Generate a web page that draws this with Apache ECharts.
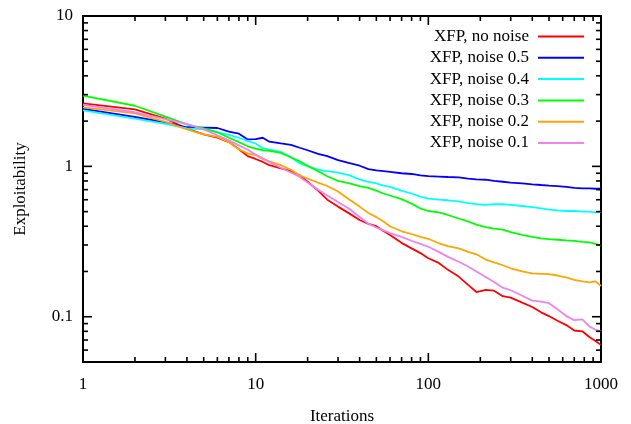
<!DOCTYPE html>
<html>
<head>
<meta charset="utf-8">
<script src="https://cdn.jsdelivr.net/npm/echarts@6.0.0/dist/echarts.min.js"></script>
<style>
html,body{margin:0;padding:0;background:#fff;}
#chart{width:631px;height:424px;}
</style>
</head>
<body>
<div id="chart"></div>
<script>
const iterations = [1,2,3,4,5,6,7,8,9,10,11,12,14,16,18,20,23,26,30,35,40,45,50,55,60,70,80,90,100,115,130,150,170,190,215,240,270,300,350,400,450,500,560,630,700,780,860,930,1000];

const noNoise = [2.62,2.39,2.08,1.78,1.63,1.55,1.45,1.30,1.17,1.12,1.07,1.02,0.97,0.93,0.87,0.79,0.69,0.60,0.54,0.485,0.44,0.415,0.40,0.372,0.35,0.31,0.285,0.265,0.245,0.228,0.205,0.185,0.163,0.146,0.151,0.149,0.137,0.134,0.124,0.116,0.107,0.101,0.094,0.088,0.081,0.080,0.073,0.069,0.065];
const noise05 = [2.41,2.13,1.96,1.82,1.81,1.80,1.70,1.65,1.51,1.52,1.55,1.46,1.42,1.39,1.33,1.28,1.21,1.17,1.10,1.05,1.01,0.96,0.94,0.93,0.92,0.90,0.89,0.87,0.86,0.855,0.85,0.845,0.83,0.82,0.815,0.80,0.79,0.78,0.77,0.76,0.752,0.745,0.738,0.73,0.72,0.715,0.715,0.71,0.71];
const noise04 = [2.36,2.08,1.92,1.79,1.76,1.68,1.62,1.55,1.47,1.42,1.32,1.29,1.25,1.15,1.05,1.00,0.95,0.93,0.91,0.87,0.82,0.79,0.77,0.745,0.73,0.69,0.66,0.63,0.61,0.60,0.595,0.585,0.57,0.56,0.555,0.56,0.56,0.555,0.545,0.535,0.525,0.515,0.51,0.505,0.505,0.50,0.50,0.495,0.50];
const noise03 = [2.95,2.53,2.14,1.90,1.79,1.69,1.55,1.45,1.36,1.31,1.28,1.27,1.23,1.15,1.08,1.01,0.93,0.86,0.80,0.77,0.74,0.72,0.69,0.66,0.64,0.605,0.565,0.525,0.505,0.495,0.475,0.45,0.43,0.41,0.395,0.385,0.38,0.365,0.35,0.34,0.332,0.328,0.325,0.322,0.32,0.315,0.312,0.305,0.297];
const noise02 = [2.47,2.25,1.98,1.76,1.63,1.57,1.45,1.30,1.22,1.19,1.12,1.08,1.02,0.95,0.87,0.83,0.78,0.74,0.68,0.60,0.54,0.49,0.46,0.43,0.40,0.37,0.355,0.34,0.33,0.308,0.295,0.285,0.27,0.26,0.24,0.23,0.22,0.21,0.20,0.194,0.193,0.192,0.188,0.183,0.176,0.172,0.169,0.172,0.160];
const noise01 = [2.56,2.29,2.06,1.91,1.76,1.61,1.49,1.38,1.29,1.20,1.13,1.07,0.98,0.91,0.85,0.78,0.70,0.64,0.58,0.52,0.46,0.415,0.392,0.375,0.36,0.34,0.32,0.305,0.292,0.27,0.25,0.232,0.216,0.20,0.184,0.17,0.156,0.15,0.138,0.128,0.126,0.123,0.112,0.101,0.095,0.096,0.086,0.082,0.080];

const seriesNames = ['XFP, no noise','XFP, noise 0.5','XFP, noise 0.4','XFP, noise 0.3','XFP, noise 0.2','XFP, noise 0.1'];
const seriesValues = [noNoise, noise05, noise04, noise03, noise02, noise01];
const seriesColors = ['#ff0000','#0000ff','#00ffff','#00ff00','#ffa500','#ee82ee'];

const xTickValues = [1,2,3,4,5,6,7,8,9,10,20,30,40,50,60,70,80,90,100,200,300,400,500,600,700,800,900,1000];
const yTickValues = [0.05,0.06,0.07,0.08,0.09,0.1,0.2,0.3,0.4,0.5,0.6,0.7,0.8,0.9,1,2,3,4,5,6,7,8,9,10];
const X_MIN = 1, X_MAX = 1000, Y_MIN = 0.05, Y_MAX = 10;

function isMajor(v){ const l = Math.log10(v); return Math.abs(l - Math.round(l)) < 1e-6; }

const FONT = 'Liberation Serif';
const chart = echarts.init(document.getElementById('chart'), null, {renderer:'canvas'});

const lineSeries = seriesNames.map((name, i) => ({
  name: name,
  type: 'line',
  data: iterations.map((x, j) => [x, seriesValues[i][j]]),
  symbol: 'none',
  showSymbol: false,
  lineStyle: {color: seriesColors[i], width: 1.8},
  itemStyle: {color: seriesColors[i]},
  z: 2
}));

const tickStyle = {stroke:'#000', lineWidth:1.6};

const xTickSeries = {
  type: 'custom', name: 'xticks', silent: true, clip: false, z: 5,
  data: xTickValues.map(v => [v, Y_MIN]),
  renderItem: function(params, api){
    const v = api.value(0);
    const L = isMajor(v) ? 9 : 5;
    const b = api.coord([v, Y_MIN]);
    const t = api.coord([v, Y_MAX]);
    return {type:'group', children:[
      {type:'line', shape:{x1:b[0], y1:b[1], x2:b[0], y2:b[1]-L}, style:tickStyle},
      {type:'line', shape:{x1:t[0], y1:t[1], x2:t[0], y2:t[1]+L}, style:tickStyle}
    ]};
  }
};
const yTickSeries = {
  type: 'custom', name: 'yticks', silent: true, clip: false, z: 5,
  data: yTickValues.map(v => [X_MIN, v]),
  renderItem: function(params, api){
    const v = api.value(1);
    const L = isMajor(v) ? 9 : 5;
    const l = api.coord([X_MIN, v]);
    const r = api.coord([X_MAX, v]);
    return {type:'group', children:[
      {type:'line', shape:{x1:l[0], y1:l[1], x2:l[0]+L, y2:l[1]}, style:tickStyle},
      {type:'line', shape:{x1:r[0], y1:r[1], x2:r[0]-L, y2:r[1]}, style:tickStyle}
    ]};
  }
};

const option = {
  animation: false,
  backgroundColor: '#fff',
  textStyle: {fontFamily: FONT},
  grid: {left: 83, right: 30, top: 16, bottom: 62, show: true, borderColor: '#000', borderWidth: 2,
    containLabel: false, outerBoundsMode: 'none'},
  legend: {
    orient: 'vertical', right: 47, top: 28, align: 'right', padding: 0,
    icon: 'rect', itemWidth: 46, itemHeight: 2, itemGap: 4.3,
    data: seriesNames,
    textStyle: {fontFamily: FONT, fontSize: 17, color: '#000', lineHeight: 17, padding: [0, 4, 0, 0]},
    selectedMode: false
  },
  xAxis: {
    type: 'log', logBase: 10, min: X_MIN, max: X_MAX,
    name: 'Iterations', nameLocation: 'middle', nameGap: 46,
    nameTextStyle: {fontFamily: FONT, fontSize: 17, color: '#000'},
    axisLine: {show: false}, axisTick: {show: false}, splitLine: {show: false}, minorTick: {show: false},
    axisLabel: {fontFamily: FONT, fontSize: 17, color: '#000', margin: 14,
      formatter: v => String(+Number(v).toPrecision(4))}
  },
  yAxis: {
    type: 'log', logBase: 10, min: Y_MIN, max: Y_MAX,
    name: 'Exploitability', nameLocation: 'middle', nameGap: 54,
    nameTextStyle: {fontFamily: FONT, fontSize: 17, color: '#000'},
    axisLine: {show: false}, axisTick: {show: false}, splitLine: {show: false}, minorTick: {show: false},
    axisLabel: {fontFamily: FONT, fontSize: 17, color: '#000', margin: 10, showMinLabel: false,
      formatter: v => (Math.abs(v - Y_MIN) < 1e-9 ? '' : String(+Number(v).toPrecision(4)))}
  },
  series: lineSeries.concat([xTickSeries, yTickSeries])
};
chart.setOption(option);
</script>
</body>
</html>
